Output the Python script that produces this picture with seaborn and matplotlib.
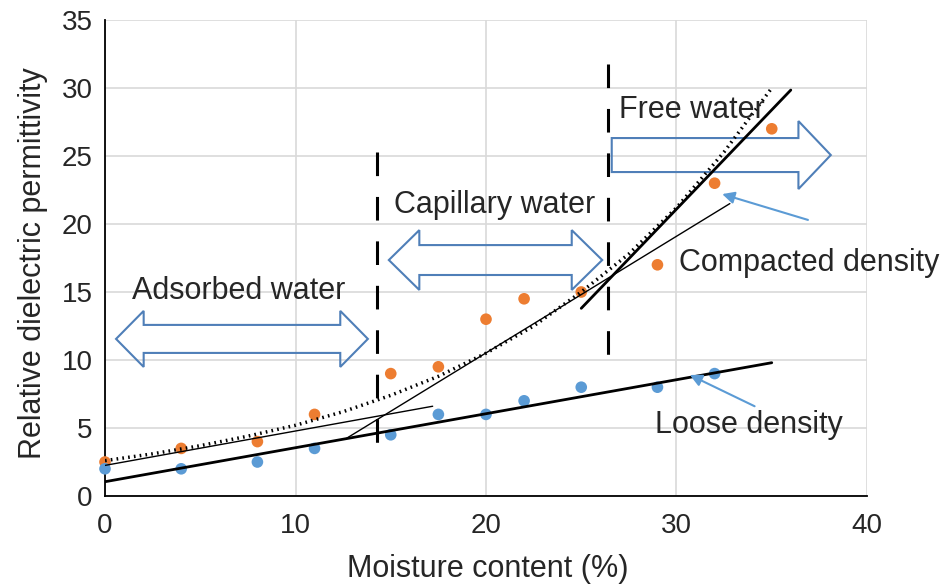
import numpy as np
import pandas as pd
import matplotlib
matplotlib.use("Agg")
import matplotlib.pyplot as plt
import seaborn as sns
from matplotlib.patches import Polygon

# ---------------- data ----------------
moisture_compacted = [0, 4, 8, 11, 15, 17.5, 20, 22, 25, 29, 32, 35]
eps_compacted = [2.5, 3.5, 4.0, 6.0, 9.0, 9.5, 13.0, 14.5, 15.0, 17.0, 23.0, 27.0]

moisture_loose = [0, 4, 8, 11, 15, 17.5, 20, 22, 25, 29, 32]
eps_loose = [2.0, 2.0, 2.5, 3.5, 4.5, 6.0, 6.0, 7.0, 8.0, 8.0, 9.0]

# trend line (dotted) for compacted density
trend_x = [0, 2.5, 5, 7.5, 10, 12.5, 15, 17.5, 20, 22.5, 25, 27.5, 30, 32.5, 35]
trend_y = [2.6, 3.1, 3.7, 4.4, 5.2, 6.2, 7.4, 8.8, 10.5, 12.5, 15.0, 17.8, 21.2, 25.3, 30.0]

# straight fit lines (end points)
loose_fit_x = [0, 35]
loose_fit_y = [1.05, 9.8]
adsorbed_fit_x = [0, 17.2]
adsorbed_fit_y = [2.25, 6.6]
capillary_fit_x = [12.7, 32.8]
capillary_fit_y = [4.26, 21.5]
free_fit_x = [25.0, 36.0]
free_fit_y = [13.8, 29.85]

# moisture boundaries between water states
boundary_x = [14.3, 26.4]
boundary_ylo = [3.6, 10.2]
boundary_yhi = [25.3, 31.8]

x_ticks = [0, 10, 20, 30, 40]
y_ticks = [0, 5, 10, 15, 20, 25, 30, 35]

# ---------------- styling ----------------
sns.set_theme(style="white")
plt.rcParams["font.family"] = ["Liberation Sans", "DejaVu Sans"]
plt.rcParams["lines.scale_dashes"] = False

TXT = "#262626"
ORANGE = "#ed7d31"
BLUE = "#5b9bd5"
ARROW = "#4f7fb8"

W, H = 941, 585
fig = plt.figure(figsize=(W / 100, H / 100), dpi=100)
ax = fig.add_axes([105 / W, (H - 496) / H, (867 - 105) / W, (496 - 20) / H])

# scatter points
df_c = pd.DataFrame({"x": moisture_compacted, "y": eps_compacted})
df_l = pd.DataFrame({"x": moisture_loose, "y": eps_loose})
sns.scatterplot(data=df_c, x="x", y="y", ax=ax, color=ORANGE, s=70,
                edgecolor="none", zorder=4, clip_on=False)
sns.scatterplot(data=df_l, x="x", y="y", ax=ax, color=BLUE, s=70,
                edgecolor="none", zorder=4, clip_on=False)

# lines
def line(xs, ys, lw, ls="-"):
    d = pd.DataFrame({"x": xs, "y": ys})
    sns.lineplot(data=d, x="x", y="y", ax=ax, color="black", lw=lw,
                 linestyle=ls, zorder=5, estimator=None, sort=False)

line(loose_fit_x, loose_fit_y, 2.0)
line(adsorbed_fit_x, adsorbed_fit_y, 1.0)
line(capillary_fit_x, capillary_fit_y, 1.0)
line(free_fit_x, free_fit_y, 2.0)
line(trend_x, trend_y, 2.5, ls=(0, (1.2, 3.0)))

for bx, lo, hi in zip(boundary_x, boundary_ylo, boundary_yhi):
    ln, = ax.plot([bx, bx], [hi, lo], color="black", lw=2.2, zorder=5)
    ln.set_dashes((17, 15))

# block arrows (outline only)
def double_arrow(x0, x1, yc, hb, hh, hl):
    pts = [(x0, yc), (x0 + hl, yc + hh), (x0 + hl, yc + hb), (x1 - hl, yc + hb),
           (x1 - hl, yc + hh), (x1, yc), (x1 - hl, yc - hh), (x1 - hl, yc - hb),
           (x0 + hl, yc - hb), (x0 + hl, yc - hh)]
    ax.add_patch(Polygon(pts, closed=True, fill=False, ec=ARROW, lw=1.5, zorder=3))

def right_arrow(x0, x1, yc, hb, hh, hl):
    pts = [(x0, yc + hb), (x1 - hl, yc + hb), (x1 - hl, yc + hh), (x1, yc),
           (x1 - hl, yc - hh), (x1 - hl, yc - hb), (x0, yc - hb)]
    ax.add_patch(Polygon(pts, closed=True, fill=False, ec=ARROW, lw=1.5,
                         zorder=3, clip_on=False))

double_arrow(0.58, 13.8, 11.55, 1.03, 2.06, 1.45)
double_arrow(14.9, 26.1, 17.35, 1.1, 2.2, 1.6)
right_arrow(26.6, 38.1, 25.07, 1.25, 2.5, 1.7)

# labels
fs = 20
fl = 22
ax.text(7.0, 15.1, "Adsorbed water", ha="center", va="center", fontsize=fl, color=TXT, zorder=6)
ax.text(20.45, 21.4, "Capillary water", ha="center", va="center", fontsize=fl, color=TXT, zorder=6)
ax.text(27.0, 28.4, "Free water", ha="left", va="center", fontsize=fl, color=TXT, zorder=6)
ax.text(30.15, 17.1, "Compacted density", ha="left", va="center", fontsize=fl, color=TXT,
        zorder=6, clip_on=False)
ax.text(28.85, 5.2, "Loose density", ha="left", va="center", fontsize=fl, color=TXT, zorder=6)

ax.annotate("", xy=(32.4, 22.2), xytext=(36.9, 20.3),
            arrowprops=dict(arrowstyle="-|>", color=BLUE, lw=1.5, mutation_scale=18,
                            shrinkA=0, shrinkB=0), zorder=6, annotation_clip=False)
ax.annotate("", xy=(30.7, 8.9), xytext=(34.1, 6.6),
            arrowprops=dict(arrowstyle="-|>", color=BLUE, lw=1.5, mutation_scale=18,
                            shrinkA=0, shrinkB=0), zorder=6)

# axes
ax.set_xlim(0, 40)
ax.set_ylim(0, 35)
ax.set_xticks(x_ticks)
ax.set_yticks(y_ticks)
ax.grid(True, color="#d9d9d9", lw=1.2)
ax.set_axisbelow(True)
for s in ["top", "right"]:
    ax.spines[s].set_visible(False)
for s in ["left", "bottom"]:
    ax.spines[s].set_color("black")
    ax.spines[s].set_linewidth(1.3)
ax.tick_params(axis="both", direction="in", length=6, width=1.3, color="black",
               labelsize=fs, labelcolor=TXT)
ax.tick_params(axis="y", pad=9)
ax.tick_params(axis="x", pad=12)

ax.set_xlabel("Moisture content (%)", fontsize=fl, color=TXT, va="center")
ax.set_ylabel("Relative dielectric permittivity", fontsize=fl, color=TXT, va="center")
ax.xaxis.set_label_coords((488 - 105) / 762, (496 - 569) / 476)
ax.yaxis.set_label_coords((33 - 105) / 762, 0.49)

fig.savefig("out.png", dpi=100)
